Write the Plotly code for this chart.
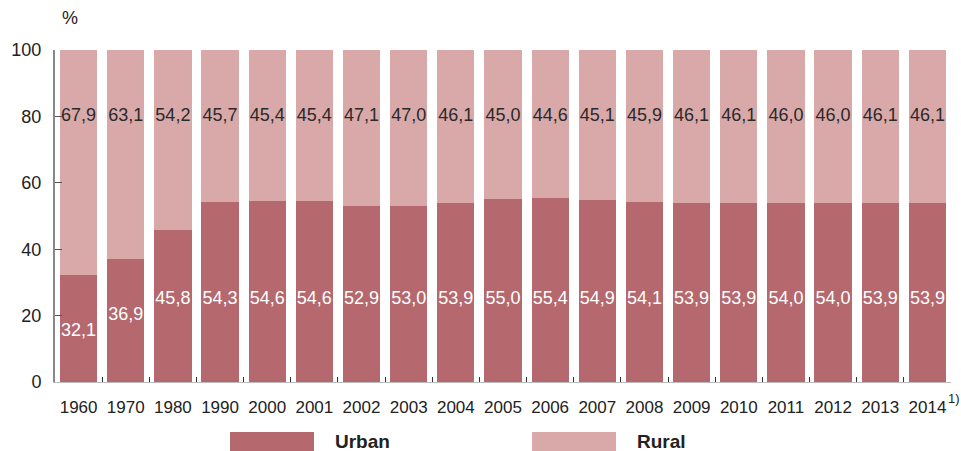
import plotly.graph_objects as go

years = ["1960", "1970", "1980", "1990", "2000", "2001", "2002", "2003", "2004", "2005",
         "2006", "2007", "2008", "2009", "2010", "2011", "2012", "2013", "2014"]
urban = [32.1, 36.9, 45.8, 54.3, 54.6, 54.6, 52.9, 53.0, 53.9, 55.0,
         55.4, 54.9, 54.1, 53.9, 53.9, 54.0, 54.0, 53.9, 53.9]
rural = [67.9, 63.1, 54.2, 45.7, 45.4, 45.4, 47.1, 47.0, 46.1, 45.0,
         44.6, 45.1, 45.9, 46.1, 46.1, 46.0, 46.0, 46.1, 46.1]
y_ticks = [0, 20, 40, 60, 80, 100]

URBAN_COL = "#b5686d"
RURAL_COL = "#d9a9aa"
FONT = "Liberation Sans, Arial, Helvetica, sans-serif"


def fmt(v):
    return f"{v:.1f}".replace(".", ",")


fig = go.Figure()
fig.add_trace(go.Bar(x=years, y=urban, name="Urban", marker_color=URBAN_COL,
                     marker_line_width=0, hoverinfo="x+y"))
fig.add_trace(go.Bar(x=years, y=rural, name="Rural", marker_color=RURAL_COL,
                     marker_line_width=0, hoverinfo="x+y"))

# value labels: rural on one row near 80, urban on a row near 25 (lower for short bars)
fig.add_trace(go.Scatter(x=years, y=[80] * len(years), mode="text",
                         text=[fmt(v) for v in rural],
                         textfont=dict(family=FONT, size=18, color="#2a2a2a"),
                         hoverinfo="skip"))
fig.add_trace(go.Scatter(x=years, y=[min(v - 17, 25) for v in urban], mode="text",
                         text=[fmt(v) for v in urban],
                         textfont=dict(family=FONT, size=18, color="white"),
                         hoverinfo="skip"))

fig.update_layout(
    barmode="stack",
    bargap=0.21,
    width=961, height=451,
    margin=dict(l=55, r=10, t=50, b=69),
    plot_bgcolor="white", paper_bgcolor="white",
    showlegend=False,
    font=dict(family=FONT, size=17, color="#222"),
    xaxis=dict(type="category", range=[-0.5, len(years) - 0.5],
               tickson="boundaries", ticks="inside", ticklen=5,
               tickcolor="#333", showline=True, linecolor="#bbb", linewidth=1,
               showgrid=False, ticklabelstandoff=10,
               tickfont=dict(size=17)),
    yaxis=dict(range=[0, 100], tickvals=y_ticks, ticks="inside", ticklen=7,
               tickcolor="#555", showline=True, linecolor="#888", linewidth=2,
               showgrid=False, zeroline=False, ticklabelstandoff=8,
               tickfont=dict(size=18)),
)

# "%" unit label and footnote mark
fig.add_annotation(text="%", xref="paper", yref="paper", x=0.006, y=1.0, yshift=32,
                   showarrow=False, xanchor="left", yanchor="middle", font=dict(size=18))
fig.add_annotation(text="1)", xref="paper", yref="paper", x=1.0, y=0, xshift=-5, yshift=-16,
                   showarrow=False, xanchor="left", yanchor="middle", font=dict(size=13))

# custom legend with wide swatches
for x0, col, name in [(230, URBAN_COL, "Urban"), (532, RURAL_COL, "Rural")]:
    fig.add_shape(type="rect", xref="paper", yref="paper",
                  x0=(x0 - 55) / 896, x1=(x0 + 84 - 55) / 896,
                  y0=-(432 - 382) / 332, y1=-(452 - 382) / 332,
                  fillcolor=col, line_width=0)
    fig.add_annotation(text=f"<b>{name}</b>", xref="paper", yref="paper",
                       x=(x0 + 103 - 55) / 896, y=-(441 - 382) / 332,
                       showarrow=False, xanchor="left", yanchor="middle",
                       font=dict(size=19, color="#222"))

fig.write_html("out.html", config={"displayModeBar": False},
               post_script="document.body.style.margin='0';")
